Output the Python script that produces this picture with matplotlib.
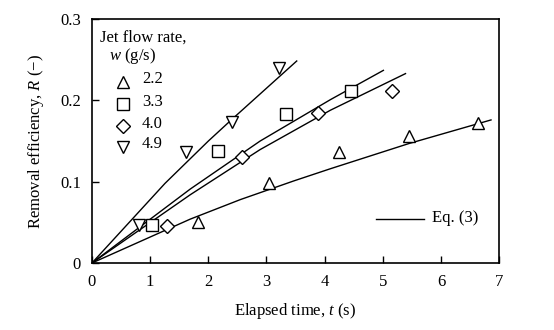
import matplotlib
matplotlib.use("Agg")
import matplotlib.pyplot as plt

plt.rcParams['font.family'] = ['Liberation Serif', 'DejaVu Serif']
plt.rcParams['mathtext.fontset'] = 'custom'
plt.rcParams['mathtext.rm'] = 'Liberation Serif'
plt.rcParams['mathtext.it'] = 'Liberation Serif:italic'

# measured points, one set per jet flow rate w (g/s)
T_22 = [1.83, 3.05, 4.25, 5.45, 6.64]
R_22 = [0.051, 0.099, 0.136, 0.156, 0.172]
T_33 = [1.03, 2.17, 3.34, 4.46]
R_33 = [0.047, 0.138, 0.183, 0.212]
T_40 = [1.29, 2.58, 3.89, 5.16]
R_40 = [0.046, 0.130, 0.185, 0.212]
T_49 = [0.81, 1.62, 2.41, 3.22]
R_49 = [0.047, 0.137, 0.174, 0.240]

# Eq. (3) curves
CT_22 = [0, 1.69, 2.55, 3.47, 4.10, 5.45, 6.86]
CR_22 = [0, 0.054, 0.078, 0.101, 0.116, 0.147, 0.176]
CT_33 = [0, 1.69, 2.89, 4.10, 5.01]
CR_33 = [0, 0.091, 0.150, 0.201, 0.237]
CT_40 = [0, 1.69, 2.89, 4.10, 5.39]
CR_40 = [0, 0.084, 0.1395, 0.188, 0.233]
CT_49 = [0, 1.256, 2.0, 2.41, 3.52]
CR_49 = [0, 0.098, 0.150, 0.177, 0.2485]

LABELS  = ['2.2', '3.3', '4.0', '4.9']
MARKERS = ['^', 's', 'D', 'v']
X_TICKS = [0, 1, 2, 3, 4, 5, 6, 7]
Y_TICKS = [0, 0.1, 0.2, 0.3]
Y_TICK_LABELS = ['0', '0.1', '0.2', '0.3']
FS = 12

def marker_size(m):
    return 7.5 if m == 'D' else 8.5

fig = plt.figure(figsize=(5.54, 3.30), dpi=100)
ax = fig.add_axes([0.166, 0.203, 0.735, 0.739])

for ct, cr in [(CT_22, CR_22), (CT_33, CR_33), (CT_40, CR_40), (CT_49, CR_49)]:
    ax.plot(ct, cr, color='black', lw=1.0)

series = [(T_22, R_22), (T_33, R_33), (T_40, R_40), (T_49, R_49)]
for (t, r), m in zip(series, MARKERS):
    ax.plot(t, r, linestyle='none', marker=m, ms=marker_size(m),
            mfc='white', mec='black', mew=1.0)

ax.set_xlim(0, 7)
ax.set_ylim(0, 0.3)
ax.set_xticks(X_TICKS)
ax.set_yticks(Y_TICKS)
ax.set_yticklabels(Y_TICK_LABELS)
ax.tick_params(direction='in', length=5, width=1, labelsize=FS, pad=8)
for s in ax.spines.values():
    s.set_linewidth(1.2)

ax.set_xlabel('Elapsed time, $t$ (s)', fontsize=FS, labelpad=8)
ax.set_ylabel('Removal efficiency, $R$ (\u2212)', fontsize=FS, labelpad=10)

# legend drawn by hand in axes coordinates
ax.text(0.02, 0.926, 'Jet flow rate,', transform=ax.transAxes, fontsize=FS, va='center')
ax.text(0.043, 0.848, '$w$ (g/s)', transform=ax.transAxes, fontsize=FS, va='center')
rows = [0.741, 0.650, 0.560, 0.477]
for lab, m, yy in zip(LABELS, MARKERS, rows):
    ax.plot([0.077], [yy], transform=ax.transAxes, marker=m, ms=marker_size(m),
            mfc='white', mec='black', mew=1.0)
    ax.text(0.123, yy + 0.012, lab, transform=ax.transAxes, fontsize=FS, va='center')

ax.plot([0.698, 0.816], [0.181, 0.181], transform=ax.transAxes, color='black', lw=1.0)
ax.text(0.836, 0.185, 'Eq. (3)', transform=ax.transAxes, fontsize=FS, va='center')

fig.savefig('out.png', dpi=100)
